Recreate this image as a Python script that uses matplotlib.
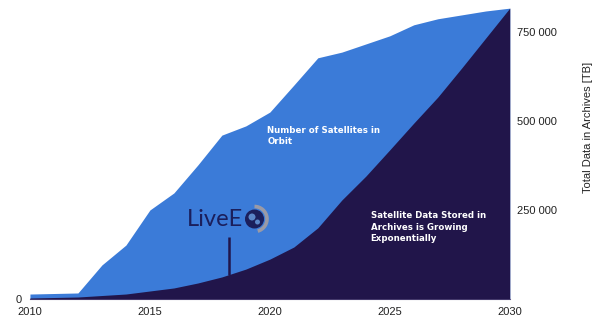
import matplotlib
matplotlib.use("Agg")
import matplotlib.pyplot as plt
from matplotlib.patches import Circle, Arc

plt.rcParams['font.family'] = ['Liberation Sans', 'DejaVu Sans']

years = list(range(2010, 2031))

# satellites in orbit (left axis, only the zero is labelled)
satellites = [140, 155, 170, 960, 1520, 2510, 2990, 3780, 4620, 4880, 5270,
              6030, 6800, 6960, 7190, 7420, 7730, 7900, 8010, 8120, 8200]

# total data stored in archives, TB (right axis)
archive_tb = [2800, 4200, 5600, 9800, 14000, 22500, 31000, 45000, 62000, 84000,
              112000, 146000, 200000, 278000, 345000, 419000, 494000, 567000,
              649000, 733000, 817000]

x_ticks = [2010, 2015, 2020, 2025, 2030]
tb_ticks = [250000, 500000, 750000]
tb_tick_labels = ['250 000', '500 000', '750 000']

blue = '#3b7bd8'
navy = '#21154a'
ink = '#222222'
logo = '#1b1f5c'

fig = plt.figure(figsize=(5.99, 3.23), dpi=100)
ax = fig.add_axes([0.050, 0.0743, 0.801, 0.915])

ax.fill_between(years, 0, satellites, color=blue, lw=0)
ax.set_xlim(2010, 2030)
ax.set_ylim(0, 8332)
ax.set_xticks(x_ticks)
ax.set_yticks([0])
ax.tick_params(axis='both', length=0, labelsize=8, labelcolor=ink)
ax.tick_params(axis='x', pad=5.5)
ax.tick_params(axis='y', pad=6)
for side in ['top', 'right', 'left']:
    ax.spines[side].set_visible(False)
ax.spines['bottom'].set_color('#6a6190')
ax.spines['bottom'].set_linewidth(0.8)

ax2 = ax.twinx()
ax2.fill_between(years, 0, archive_tb, color=navy, lw=0)
ax2.set_ylim(0, 830000)
ax2.set_yticks(tb_ticks)
ax2.set_yticklabels(tb_tick_labels)
ax2.tick_params(axis='y', length=0, labelsize=8, labelcolor=ink, pad=5)
for side in ['top', 'right', 'left', 'bottom']:
    ax2.spines[side].set_visible(False)

fig.text(588 / 599, 1 - 127 / 323, 'Total Data in Archives [TB]', rotation=90,
         ha='center', va='center', fontsize=8, color=ink)

# series captions
ax2.text(2019.9, 458000, 'Number of Satellites in\nOrbit', color='white',
         fontsize=6.2, fontweight='bold', family='DejaVu Sans',
         va='center', ha='left', linespacing=1.3)
ax2.text(2024.2, 202000, 'Satellite Data Stored in\nArchives is Growing\nExponentially',
         color='white', fontsize=6.2, fontweight='bold', family='DejaVu Sans',
         va='center', ha='left', linespacing=1.3)

# logo with its marker line
ax2.vlines(2018.3, 67000, 174000, color=navy, lw=1.8)
fig.text(187 / 599, 1 - 219 / 323, 'LiveE', color=logo, fontsize=17,
         family=['Lato', 'DejaVu Sans'], ha='left', va='center')
cx, cy = 2.545, (323 - 219) / 100
fig.patches.append(Arc((cx, cy), 0.25, 0.25, theta1=-75, theta2=90,
                       transform=fig.dpi_scale_trans, color='#9a9aa6', lw=2.6))
fig.patches.append(Circle((cx, cy), 0.088, transform=fig.dpi_scale_trans,
                          facecolor=logo, edgecolor=logo))
fig.patches.append(Circle((cx - 0.025, cy + 0.02), 0.035, transform=fig.dpi_scale_trans,
                          facecolor='#5a86c8', edgecolor='none'))
fig.patches.append(Circle((cx + 0.03, cy - 0.03), 0.025, transform=fig.dpi_scale_trans,
                          facecolor='#5a86c8', edgecolor='none'))

fig.savefig('out.png', dpi=100)
